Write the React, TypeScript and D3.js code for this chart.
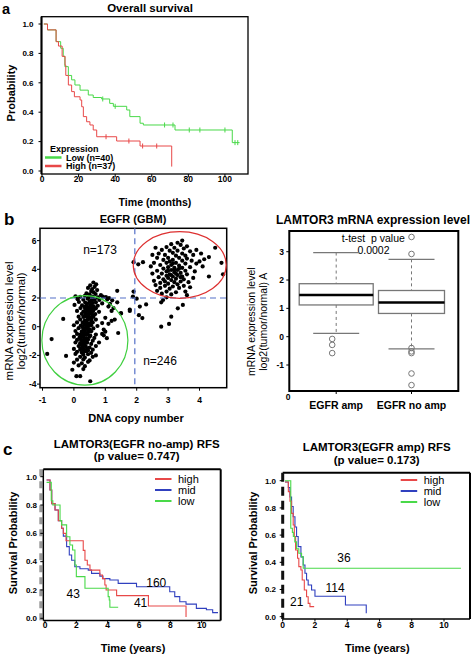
import React from 'react';
import * as d3 from 'd3';

const FONT = "'Liberation Sans', Arial, Helvetica, sans-serif";

// ---------- Panel a: overall survival ----------
const osTimeTicks = [0, 20, 40, 60, 80, 100];
const osProbTicks = [0, 0.2, 0.4, 0.6, 0.8, 1.0];
const osLowSteps: [number, number][] = [
  [1, 1], [3, 0.96], [7.7, 0.88], [10.2, 0.835], [11.6, 0.78], [12.5, 0.71], [14.4, 0.65],
  [16.2, 0.62], [18, 0.585], [20.8, 0.55], [25.3, 0.517], [28, 0.5], [32.6, 0.49], [37, 0.46],
  [39, 0.44], [46.3, 0.415], [48, 0.37], [53.6, 0.325], [55.4, 0.313], [72.7, 0.279], [104, 0.193],
];
const osLowEnd = 108;
const osLowCensor = [33.2, 40, 67, 71.6, 80.5, 86.3, 100, 105.5, 107];
const osHighSteps: [number, number][] = [
  [1, 1], [3, 0.96], [7.7, 0.88], [9, 0.85], [11, 0.78], [12.6, 0.72], [13, 0.65], [14.4, 0.585],
  [16.2, 0.54], [17.7, 0.505], [20.8, 0.483], [21.7, 0.437], [22.6, 0.37], [24.4, 0.335],
  [26.2, 0.313], [28, 0.279], [29.9, 0.233], [40.8, 0.204], [53.6, 0.17], [70.9, 0.03],
];
const osHighEnd = 70.9;
const osHighCensor = [35, 47.5, 55, 62.7];

// ---------- Panel b left: EGFR scatter ----------
const cnTicks = [-1, 0, 1, 2, 3, 4];
const exprTicks = [-4, -2, 0, 2, 4, 6];
const lowCluster: [number, number][] = [
  [0.62, 3.08], [0.71, 2.95], [0.52, 2.88], [0.66, 2.78], [0.45, 2.7], [0.58, 2.62], [0.74, 2.55], [0.55, 2.48], [0.63, 2.4], [1.38, 2.5],
  [0.4, 2.32], [0.5, 2.25], [0.69, 2.28], [0.86, 2.2], [0.05, 2.12], [0.2, 2.08], [0.35, 2.15], [0.48, 2.05], [0.6, 2.1], [0.76, 2.04], [0.92, 2.1], [1.02, 2.06], [1.12, 2.0],
  [0.12, 1.92], [0.3, 1.88], [0.44, 1.95], [0.56, 1.85], [0.66, 1.9], [0.81, 1.86], [1.06, 1.9], [1.22, 1.84],
  [0.16, 1.72], [0.36, 1.68], [0.5, 1.75], [0.6, 1.66], [0.7, 1.7], [0.9, 1.62], [0.42, 1.6], [0.55, 1.58],
  [0.02, 1.52], [0.26, 1.48], [0.4, 1.45], [0.52, 1.5], [0.63, 1.42], [0.76, 1.46], [1.1, 1.4], [0.34, 1.38], [0.58, 1.36],
  [0.21, 1.3], [0.36, 1.25], [0.46, 1.32], [0.56, 1.22], [0.7, 1.28], [1.26, 1.3], [0.48, 1.18], [0.62, 1.15],
  [0.1, 1.1], [0.3, 1.05], [0.42, 1.12], [0.51, 1.02], [0.6, 1.08], [0.8, 1.04], [0.38, 0.98], [0.55, 0.95],
  [0.25, 0.9], [0.38, 0.86], [0.48, 0.92], [0.58, 0.84], [0.68, 0.88], [1.5, 0.92], [0.45, 0.8], [0.35, 0.75],
  [0.15, 0.7], [0.3, 0.68], [0.4, 0.72], [0.52, 0.65], [0.62, 0.7], [1.0, 0.62], [0.46, 0.58], [0.56, 0.55],
  [-0.34, 0.54], [0.2, 0.5], [0.35, 0.45], [0.45, 0.52], [0.55, 0.42], [0.7, 0.5], [1.2, 0.4], [0.4, 0.38],
  [0.1, 0.3], [0.28, 0.28], [0.4, 0.32], [0.5, 0.22], [0.6, 0.3], [0.9, 0.25], [0.33, 0.18], [0.45, 0.15],
  [0.0, 0.1], [0.22, 0.08], [0.35, 0.12], [0.45, 0.02], [0.55, 0.1], [0.75, 0.05], [0.28, -0.02], [0.4, -0.05],
  [0.15, -0.1], [0.3, -0.15], [0.4, -0.08], [0.5, -0.18], [0.62, -0.12], [0.95, -0.2], [0.35, -0.22], [0.46, -0.28],
  [0.05, -0.3], [0.25, -0.35], [0.35, -0.3], [0.45, -0.4], [0.55, -0.32], [1.0, -0.35], [0.3, -0.45], [0.4, -0.5],
  [0.1, -0.5], [0.2, -0.55], [0.32, -0.6], [0.42, -0.52], [0.52, -0.62], [0.7, -0.55], [0.9, -0.5], [0.27, -0.68],
  [0.0, -0.7], [0.18, -0.75], [0.3, -0.72], [0.4, -0.8], [0.5, -0.7], [0.65, -0.78], [0.35, -0.85], [0.22, -0.88],
  [-0.71, -0.86], [0.1, -0.92], [0.25, -0.95], [0.35, -1.0], [0.45, -0.9], [0.6, -0.98], [0.3, -1.05], [0.4, -1.08],
  [0.05, -1.1], [0.2, -1.15], [0.3, -1.2], [0.42, -1.12], [0.55, -1.2], [0.8, -1.1], [0.25, -1.28], [0.35, -1.3],
  [0.15, -1.35], [0.28, -1.4], [0.38, -1.38], [0.5, -1.45], [0.7, -1.35], [0.22, -1.5], [0.42, -1.55],
  [0.0, -1.55], [0.2, -1.6], [0.32, -1.58], [0.45, -1.65], [0.6, -1.6], [0.3, -1.72],
  [0.1, -1.75], [0.25, -1.8], [0.4, -1.72], [0.55, -1.82],
  [-0.85, -1.9], [0.05, -1.9], [0.3, -1.95], [0.45, -1.92], [0.7, -2.0],
  [-0.25, -2.04], [0.2, -2.1], [0.35, -2.15], [0.6, -2.1],
  [0.1, -2.3], [0.3, -2.28], [0.5, -2.35],
  [0.0, -2.5], [0.25, -2.55], [0.45, -2.45],
  [0.15, -2.7], [0.35, -2.75],
  [-0.05, -3.0], [0.3, -2.95],
  [0.08, -3.45], [0.2, -3.45],
  [0.52, -3.8],
];
const midPoints: [number, number][] = [
  [1.9, 2.45], [1.88, 2.1], [2.0, 1.95], [2.1, 1.4], [2.3, 1.55], [1.78, 1.1], [2.07, 0.8], [2.18, 0.6],
  [2.78, 0.0], [3.03, 0.19], [3.1, 0.7], [3.31, 1.28], [3.47, 1.52], [2.84, 1.86], [2.78, 1.7], [2.95, 2.05],
  [3.6, 2.2], [1.9, 4.5], [1.5, 0.95], [1.15, 1.6], [1.2, 1.1], [1.41, -0.44], [1.3, 0.5], [1.05, -0.8],
  [0.95, -0.6], [1.1, 0.2], [1.38, 1.7], [1.78, 1.2],
];
const highCluster: [number, number][] = [
  [3.45, 6.0], [3.3, 5.85], [3.1, 5.75], [3.4, 5.7], [3.6, 5.6], [2.6, 5.5], [2.95, 5.55], [3.2, 5.5], [3.5, 5.45], [4.5, 5.5],
  [2.8, 5.35], [3.05, 5.3], [3.3, 5.3], [3.7, 5.25], [3.9, 5.35], [4.05, 5.1], [3.15, 5.15], [3.45, 5.1], [2.7, 5.1],
  [2.5, 5.0], [2.9, 5.0], [3.25, 4.95], [3.55, 4.95], [3.8, 5.0], [4.3, 4.85], [4.15, 4.7],
  [2.65, 4.8], [3.0, 4.8], [3.35, 4.8], [3.6, 4.75], [2.85, 4.65], [3.15, 4.65], [3.45, 4.6], [3.75, 4.6], [4.0, 4.55], [4.7, 4.45],
  [2.2, 4.5], [2.55, 4.45], [2.95, 4.45], [3.25, 4.45], [3.55, 4.4], [3.9, 4.4], [3.1, 4.3], [3.35, 4.25], [2.75, 4.3],
  [2.05, 4.35], [2.45, 4.2], [3.0, 4.15], [3.2, 4.1], [3.45, 4.1], [3.7, 4.15], [4.1, 4.2], [2.85, 4.05],
  [3.1, 3.95], [3.3, 3.95], [3.55, 3.9], [2.65, 3.9], [2.95, 3.85], [3.85, 3.85], [3.2, 3.8], [3.4, 3.75],
  [2.5, 3.7], [2.8, 3.7], [3.05, 3.65], [3.3, 3.6], [3.6, 3.65], [4.75, 3.65], [2.95, 3.55], [3.15, 3.5], [3.45, 3.5],
  [2.7, 3.45], [3.0, 3.4], [3.25, 3.35], [3.5, 3.3], [3.8, 3.4], [4.3, 3.5], [2.85, 3.3], [3.1, 3.25],
  [2.55, 3.2], [2.9, 3.15], [3.2, 3.1], [3.4, 3.15], [3.65, 3.1], [2.75, 3.05], [3.0, 3.0], [3.3, 2.95],
  [2.6, 2.9], [2.9, 2.85], [3.15, 2.8], [3.5, 2.85], [2.75, 2.7], [3.05, 2.65], [3.35, 2.7], [3.7, 2.75],
  [2.65, 2.5], [2.95, 2.45], [3.25, 2.4], [2.8, 2.3], [3.1, 2.25], [3.55, 2.45],
  [3.05, 4.55], [3.2, 4.0], [3.25, 3.7], [3.1, 3.6], [3.35, 4.05], [3.0, 3.9], [3.15, 4.4], [3.4, 3.45],
];
const cnCut = 1.94;
const exprCut = 2.0;
const greenEllipse = { cx: 0.35, cy: -0.95, rx: 1.37, ry: 3.12 };
const redEllipse = { cx: 3.37, cy: 4.3, rx: 1.48, ry: 2.32 };

// ---------- Panel b right: LAMTOR3 boxplot ----------
const boxCategories = ['EGFR amp', 'EGFR no amp'];
const boxTicks = [-1, 0, 1, 2, 3];
const boxLow = [0.12, -0.43];
const boxQ1 = [1.12, 0.82];
const boxMedian = [1.47, 1.21];
const boxQ3 = [1.87, 1.63];
const boxHigh = [2.97, 2.73];
const boxOutliers: number[][] = [
  [-0.08, -0.29, -0.58],
  [3.52, 2.92, -0.4, -0.52, -0.58, -1.3, -1.71],
];

// ---------- Panel c: RFS ----------
const rfsTimeTicks = [0, 2, 4, 6, 8, 10];
const rfsProbTicks = [0, 0.2, 0.4, 0.6, 0.8, 1.0];
const noAmpHigh: [number, number][] = [
  [0.1, 0.977], [0.32, 0.906], [0.43, 0.81], [0.64, 0.765], [0.85, 0.69], [1.06, 0.636], [1.17, 0.6],
  [1.34, 0.548], [2.44, 0.48], [2.55, 0.41], [2.7, 0.376], [2.87, 0.34], [3.5, 0.306], [3.67, 0.28],
  [3.82, 0.235], [3.9, 0.2], [4.57, 0.16], [6.6, 0.087], [9.0, 0.01],
];
const noAmpHighEnd = 9.0;
const noAmpMid: [number, number][] = [
  [0.1, 0.977], [0.32, 0.906], [0.43, 0.81], [0.64, 0.765], [0.85, 0.69], [1.06, 0.636], [1.17, 0.58],
  [1.38, 0.506], [1.55, 0.447], [1.7, 0.41], [1.9, 0.364], [2.23, 0.35], [2.76, 0.34], [2.97, 0.317],
  [3.5, 0.298], [3.7, 0.28], [4.14, 0.27], [4.67, 0.247], [5.84, 0.223], [7.96, 0.188], [8.28, 0.153],
  [8.6, 0.117], [9.0, 0.1], [9.66, 0.07], [10.3, 0.06], [10.7, 0.04],
];
const noAmpMidEnd = 11.04;
const noAmpLow: [number, number][] = [
  [0.1, 0.96], [0.4, 0.83], [0.5, 0.8], [0.96, 0.69], [1.06, 0.66], [1.38, 0.576], [1.59, 0.518],
  [1.76, 0.482], [1.91, 0.376], [2.0, 0.294], [2.55, 0.212], [4.03, 0.153], [4.1, 0.129], [4.14, 0.078],
];
const noAmpLowEnd = 4.67;
const noAmpCounts = [
  { label: '160', t: 7.1, p: 0.25 },
  { label: '43', t: 1.8, p: 0.175 },
  { label: '41', t: 6.1, p: 0.11 },
];
const ampHigh: [number, number][] = [
  [0.14, 0.99], [0.35, 0.92], [0.45, 0.85], [0.55, 0.76], [0.65, 0.674], [0.72, 0.59], [0.8, 0.49],
  [0.92, 0.43], [1.0, 0.368], [1.13, 0.343], [1.21, 0.27], [1.34, 0.196], [1.48, 0.147], [1.58, 0.098],
  [1.69, 0.074],
];
const ampHighEnd = 1.95;
const ampMid: [number, number][] = [
  [0.14, 0.99], [0.35, 0.95], [0.45, 0.88], [0.55, 0.81], [0.65, 0.735], [0.76, 0.66], [0.86, 0.59],
  [0.96, 0.515], [1.13, 0.44], [1.27, 0.38], [1.38, 0.32], [1.48, 0.27], [1.58, 0.233], [1.79, 0.196],
  [2.0, 0.15], [3.89, 0.086], [5.18, 0.025],
];
const ampMidEnd = 5.18;
const ampLow: [number, number][] = [
  [0.14, 1.0], [0.5, 0.65], [0.6, 0.62], [0.66, 0.59], [0.75, 0.55], [0.86, 0.5], [1.0, 0.466],
  [1.17, 0.44], [1.27, 0.356],
];
const ampLowEnd = 11.05;
const ampCounts = [
  { label: '36', t: 3.8, p: 0.435 },
  { label: '114', t: 3.25, p: 0.213 },
  { label: '21', t: 0.87, p: 0.11 },
];
const rfsLegend = ['high', 'mid', 'low'];

const RED = '#e84848';
const GREEN = '#49d949';
const BLUE = '#3040bf';

function stepAt(steps: [number, number][], t: number) {
  let p = steps[0][1];
  for (const s of steps) if (s[0] <= t) p = s[1];
  return p;
}

function stepPath(steps: [number, number][], end: number, x: any, y: any) {
  const pts: [number, number][] = steps.concat([[end, steps[steps.length - 1][1]]]);
  return d3.line<[number, number]>().x(d => x(d[0])).y(d => y(d[1])).curve(d3.curveStepAfter)(pts) || '';
}

const fmt1 = d3.format('.1f');

function PanelA() {
  const x = d3.scaleLinear().domain([0, 112.6]).range([42, 248]);
  const y = d3.scaleLinear().domain([0, 1]).range([171, 24]);
  const box = { l: 41.5, r: 248, t: 16.7, b: 174 };
  return (
    <g>
      <text x={2} y={13.5} fontSize={14.5} fontWeight="bold">a</text>
      <text x={150} y={11.5} fontSize={11.5} fontWeight="bold" textAnchor="middle">Overall survival</text>
      <rect x={box.l} y={box.t} width={box.r - box.l} height={box.b - box.t} fill="none" stroke="#000" strokeWidth={1.3} />
      <line x1={box.l} x2={box.l} y1={box.t} y2={box.b} stroke="#000" strokeWidth={2} />
      {osProbTicks.map(v => (
        <g key={v}>
          <line x1={box.l - 3} x2={box.l} y1={y(v)} y2={y(v)} stroke="#000" />
          <text x={box.l - 8} y={y(v)} dy="0.35em" fontSize={8} fontWeight="bold" textAnchor="end">{fmt1(v)}</text>
        </g>
      ))}
      {osTimeTicks.map(v => (
        <g key={v}>
          <line x1={x(v)} x2={x(v)} y1={box.b} y2={box.b + 3} stroke="#000" />
          <text x={x(v)} y={181.5} fontSize={8.5} fontWeight="bold" textAnchor="middle">{v}</text>
        </g>
      ))}
      <text transform="translate(11,93) rotate(-90)" dy="0.35em" fontSize={11} fontWeight="bold" textAnchor="middle">Probability</text>
      <text x={155} y={206} fontSize={10.6} fontWeight="bold" textAnchor="middle">Time (months)</text>
      <path d={stepPath(osLowSteps, osLowEnd, x, y)} fill="none" stroke={GREEN} strokeWidth={1} />
      <path d={stepPath(osHighSteps, osHighEnd, x, y)} fill="none" stroke={RED} strokeWidth={1} />
      {osLowCensor.map((t, i) => (
        <line key={'lc' + i} x1={x(t)} x2={x(t)} y1={y(stepAt(osLowSteps, t)) - 2.5} y2={y(stepAt(osLowSteps, t)) + 2.5} stroke={GREEN} />
      ))}
      {osHighCensor.map((t, i) => (
        <line key={'hc' + i} x1={x(t)} x2={x(t)} y1={y(stepAt(osHighSteps, t)) - 2.5} y2={y(stepAt(osHighSteps, t)) + 2.5} stroke={RED} />
      ))}
      <text x={50} y={148.5} dy="0.35em" fontSize={9} fontWeight="bold">Expression</text>
      <line x1={45} x2={61.5} y1={157.5} y2={157.5} stroke={GREEN} strokeWidth={2.5} />
      <text x={66} y={157.5} dy="0.35em" fontSize={9} fontWeight="bold">Low (n=40)</text>
      <line x1={45} x2={61.5} y1={166} y2={166} stroke={RED} strokeWidth={2.5} />
      <text x={66} y={166} dy="0.35em" fontSize={9} fontWeight="bold">High (n=37)</text>
    </g>
  );
}

function PanelBLeft() {
  const x = d3.scaleLinear().domain([-1, 4]).range([42.5, 199.5]);
  const y = d3.scaleLinear().domain([-4, 6]).range([384.1, 240.6]);
  const box = { l: 40, r: 226.7, t: 228.3, b: 387.7 };
  const all = lowCluster.concat(midPoints, highCluster);
  const ell = (e: any, c: string) => (
    <ellipse cx={x(e.cx)} cy={y(e.cy)} rx={x(e.cx + e.rx) - x(e.cx)} ry={y(e.cy) - y(e.cy + e.ry)} fill="none" stroke={c} strokeWidth={1.2} />
  );
  return (
    <g>
      <text x={4} y={225} fontSize={17} fontWeight="bold">b</text>
      <text x={133} y={223} fontSize={11} fontWeight="bold" textAnchor="middle">EGFR (GBM)</text>
      <rect x={box.l} y={box.t} width={box.r - box.l} height={box.b - box.t} fill="none" stroke="#000" strokeWidth={1.5} />
      {exprTicks.map(v => (
        <g key={v}>
          <line x1={box.l - 3} x2={box.l} y1={y(v)} y2={y(v)} stroke="#000" />
          <text x={36.5} y={y(v)} dy="0.35em" fontSize={8.5} fontWeight="bold" textAnchor="end">{v}</text>
        </g>
      ))}
      {cnTicks.map(v => (
        <g key={v}>
          <line x1={x(v)} x2={x(v)} y1={box.b} y2={box.b + 3} stroke="#000" />
          <text x={x(v)} y={402.5} fontSize={8.5} fontWeight="bold" textAnchor="middle">{v}</text>
        </g>
      ))}
      <text transform="translate(8.7,321) rotate(-90)" dy="0.35em" fontSize={11.5} textAnchor="middle">mRNA expression level</text>
      <text transform="translate(20.5,321) rotate(-90)" dy="0.35em" fontSize={11.5} textAnchor="middle">log2(tumor/normal)</text>
      <text x={136} y={422} fontSize={11} fontWeight="bold" textAnchor="middle">DNA copy number</text>
      {all.map((d, i) => (
        <circle key={i} cx={x(d[0])} cy={y(d[1])} r={2.1} fill="#000" />
      ))}
      <line x1={x(cnCut)} x2={x(cnCut)} y1={box.t} y2={box.b} stroke="#5470c8" strokeWidth={1.2} strokeDasharray="6,4" />
      <line x1={box.l} x2={box.r} y1={y(exprCut)} y2={y(exprCut)} stroke="#5470c8" strokeWidth={1.2} strokeDasharray="6,4" />
      {ell(greenEllipse, '#3fcf3f')}
      {ell(redEllipse, '#dd3030')}
      <text x={100} y={250} dy="0.35em" fontSize={12} textAnchor="middle">n=173</text>
      <text x={160} y={361} dy="0.35em" fontSize={12} textAnchor="middle">n=246</text>
    </g>
  );
}

function PanelBRight() {
  const x = d3.scalePoint<string>().domain(boxCategories).range([336.2, 411.5]);
  const y = d3.scaleLinear().domain([-1, 3]).range([365, 251.7]);
  const box = { l: 289.3, r: 458.3, t: 231, b: 391 };
  const boxW = [74, 66];
  const capW = 46;
  return (
    <g>
      <text x={373} y={224} fontSize={12} fontWeight="bold" textAnchor="middle">LAMTOR3 mRNA expression level</text>
      <rect x={box.l} y={box.t} width={box.r - box.l} height={box.b - box.t} fill="none" stroke="#000" strokeWidth={2} />
      {boxTicks.map(v => (
        <g key={v}>
          <line x1={box.l - 3} x2={box.l} y1={y(v)} y2={y(v)} stroke="#000" />
          <text x={284} y={y(v)} dy="0.35em" fontSize={8.5} fontWeight="bold" textAnchor="end">{v}</text>
        </g>
      ))}
      <text x={288} y={397} dy="0.35em" fontSize={8.5} fontWeight="bold" textAnchor="middle">0</text>
      <text transform="translate(251.7,321.7) rotate(-90)" dy="0.35em" fontSize={10.5} textAnchor="middle">mRNA expression level</text>
      <text transform="translate(263.3,321.7) rotate(-90)" dy="0.35em" fontSize={10.5} textAnchor="middle">log2(tumor/normal) A</text>
      <text x={373.3} y={242} fontSize={10.5} textAnchor="middle">{'t-test\u00a0 p value'}</text>
      <text x={373.5} y={254} fontSize={10.5} textAnchor="middle">0.0002</text>
      {boxCategories.map((c, i) => {
        const cx = x(c) as number;
        const w = boxW[i];
        return (
          <g key={c}>
            <line x1={cx} x2={cx} y1={box.b} y2={box.b + 3} stroke="#000" />
            <text x={cx} y={409} fontSize={10.5} fontWeight="bold" textAnchor="middle">{c}</text>
            <line x1={cx} x2={cx} y1={y(boxHigh[i])} y2={y(boxQ3[i])} stroke="#777" strokeDasharray="3,3" />
            <line x1={cx} x2={cx} y1={y(boxQ1[i])} y2={y(boxLow[i])} stroke="#777" strokeDasharray="3,3" />
            <line x1={cx - capW / 2} x2={cx + capW / 2} y1={y(boxHigh[i])} y2={y(boxHigh[i])} stroke="#777" strokeWidth={1.2} />
            <line x1={cx - capW / 2} x2={cx + capW / 2} y1={y(boxLow[i])} y2={y(boxLow[i])} stroke="#777" strokeWidth={1.2} />
            <rect x={cx - w / 2} y={y(boxQ3[i])} width={w} height={y(boxQ1[i]) - y(boxQ3[i])} fill="#fff" stroke="#777" strokeWidth={1.3} />
            <line x1={cx - w / 2} x2={cx + w / 2} y1={y(boxMedian[i])} y2={y(boxMedian[i])} stroke="#000" strokeWidth={2.5} />
            {boxOutliers[i].map((v, j) => (
              <circle key={j} cx={cx - (i === 0 ? 4 : 0)} cy={y(v)} r={2.8} fill="none" stroke="#777" strokeWidth={1} />
            ))}
          </g>
        );
      })}
    </g>
  );
}

function RfsPanel(props: any) {
  const { x, y, box, title1, title2, tx, ty, letter, curves, counts, legX, legY, axisColor, axisDash, solidAxis, yLabX, yTickX } = props;
  return (
    <g>
      {letter && <text x={3} y={455} fontSize={17} fontWeight="bold">{letter}</text>}
      <text x={tx} y={ty} fontSize={11.5} fontWeight="bold" textAnchor="middle">{title1}</text>
      <text x={tx} y={ty + 12.5} fontSize={11.5} fontWeight="bold" textAnchor="middle">{title2}</text>
      <line x1={box.l} x2={box.r} y1={box.t} y2={box.t} stroke="#000" strokeWidth={2} />
      <line x1={box.r} x2={box.r} y1={box.t} y2={box.b} stroke="#000" strokeWidth={2} />
      <line x1={box.l} x2={box.r} y1={box.b} y2={box.b} stroke="#000" strokeWidth={1.5} />
      <line x1={solidAxis ? box.l - 2.5 : box.l} x2={solidAxis ? box.l - 2.5 : box.l} y1={box.t} y2={box.b} stroke={axisColor} strokeWidth={3} strokeDasharray={axisDash} />
      {solidAxis && <line x1={box.l} x2={box.l} y1={box.t} y2={box.b} stroke="#000" strokeWidth={1.5} />}
      {rfsProbTicks.map(v => (
        <g key={v}>
          <line x1={box.l - 3} x2={box.l} y1={y(v)} y2={y(v)} stroke="#000" />
          <text x={yTickX} y={y(v)} dy="0.35em" fontSize={8} fontWeight="bold" textAnchor="end">{fmt1(v)}</text>
        </g>
      ))}
      {rfsTimeTicks.map(v => (
        <g key={v}>
          <line x1={x(v)} x2={x(v)} y1={box.b} y2={box.b + 2.5} stroke="#000" />
          <text x={x(v)} y={628} fontSize={8.5} fontWeight="bold" textAnchor="middle">{v}</text>
        </g>
      ))}
      <text transform={`translate(${yLabX},543) rotate(-90)`} dy="0.35em" fontSize={11} fontWeight="bold" textAnchor="middle">Survival Probability</text>
      <text x={(box.l + box.r) / 2 + 1} y={652} fontSize={11} fontWeight="bold" textAnchor="middle">Time (years)</text>
      {curves.map((c: any, i: number) => (
        <path key={i} d={stepPath(c.steps, c.end, x, y)} fill="none" stroke={c.color} strokeWidth={1.1} />
      ))}
      {rfsLegend.map((l, i) => (
        <g key={l}>
          <line x1={legX} x2={legX + 16.5} y1={legY + i * 11} y2={legY + i * 11} stroke={[RED, BLUE, GREEN][i]} strokeWidth={2} />
          <text x={legX + 23} y={legY + i * 11} dy="0.35em" fontSize={11}>{l}</text>
        </g>
      ))}
      {counts.map((c: any) => (
        <text key={c.label} x={x(c.t)} y={y(c.p)} dy="0.35em" fontSize={12} textAnchor="middle">{c.label}</text>
      ))}
    </g>
  );
}

export default function App() {
  const cLx = d3.scaleLinear().domain([0, 10]).range([45, 201.7]);
  const cLy = d3.scaleLinear().domain([0, 1]).range([618.3, 476.7]);
  const cRx = d3.scaleLinear().domain([0, 10]).range([282.7, 444]);
  const cRy = d3.scaleLinear().domain([0, 1]).range([616.7, 480.7]);
  return (
    <svg width={472} height={657} style={{ position: 'absolute', left: 0, top: 0, background: '#fff' }} fontFamily={FONT}>
      <rect width={472} height={657} fill="#fff" />
      <PanelA />
      <PanelBLeft />
      <PanelBRight />
      <RfsPanel
        x={cLx} y={cLy} box={{ l: 43.3, r: 220.7, t: 469.3, b: 620.5 }}
        title1="LAMTOR3(EGFR no-amp) RFS" title2="(p value= 0.747)" tx={136.7} ty={447.5}
        letter="c"
        curves={[
          { steps: noAmpMid, end: noAmpMidEnd, color: BLUE },
          { steps: noAmpHigh, end: noAmpHighEnd, color: RED },
          { steps: noAmpLow, end: noAmpLowEnd, color: GREEN },
        ]}
        counts={noAmpCounts} legX={155} legY={479}
        axisColor="#999" axisDash="7,5" solidAxis={true} yLabX={13} yTickX={37}
      />
      <RfsPanel
        x={cRx} y={cRy} box={{ l: 282.7, r: 470, t: 472.7, b: 619 }}
        title1="LAMTOR3(EGFR amp) RFS" title2="(p value= 0.173)" tx={376.7} ty={451}
        letter={null}
        curves={[
          { steps: ampMid, end: ampMidEnd, color: BLUE },
          { steps: ampHigh, end: ampHighEnd, color: RED },
          { steps: ampLow, end: ampLowEnd, color: GREEN },
        ]}
        counts={ampCounts} legX={400.7} legY={480}
        axisColor="#111" axisDash="9,5" solidAxis={false} yLabX={253.3} yTickX={276}
      />
    </svg>
  );
}
